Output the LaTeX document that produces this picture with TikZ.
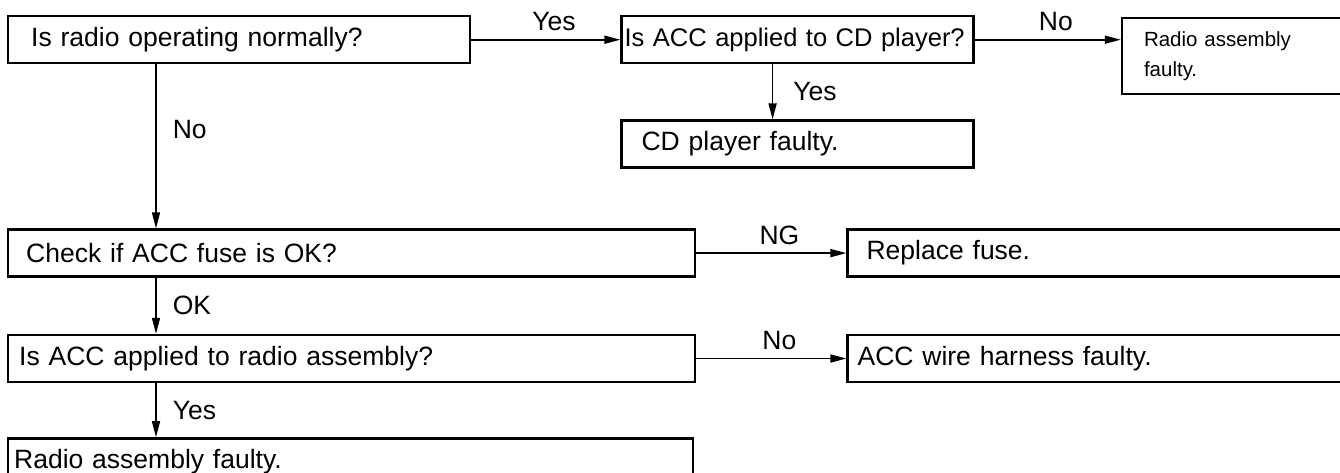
\documentclass[tikz,border=0pt]{standalone}
\usepackage{fontspec}
\setmainfont{Liberation Sans}
\usetikzlibrary{arrows.meta, positioning}
\tikzstyle{flow}=[x=1pt, y=-1pt, line width=1.6pt, >={Triangle[length=16pt,width=8pt]}]
\tikzstyle{lbl}=[inner sep=0pt, font=\fontsize{26.5}{30}\selectfont]
\tikzstyle{hlbl}=[lbl, anchor=base, yshift=9pt, xshift=8pt]
\tikzstyle{vlbl}=[lbl, anchor=west, xshift=16pt]
\tikzset{box/.style 2 args={draw, rectangle, line width=2.4pt, anchor=north west,
    text width=#1, inner xsep=#2, inner ysep=0pt, minimum height=47pt, align=left,
    font=\fontsize{26.5}{30}\selectfont}}

\begin{document}
\begin{tikzpicture}[flow]
  \useasboundingbox (0,0) rectangle (1340,472);
  \clip (0,0) rectangle (1340,472);
  \node[box={416pt}{23pt}] (radio) at (7,15) {Is radio operating normally?};
  \node[box={346pt}{3pt}, font=\fontsize{25.5}{30}\selectfont] (cdacc) [right=149pt of radio] {\mbox{Is ACC applied to CD player?}};
  \node[box={192pt}{22pt}, minimum height=76pt, font=\fontsize{20.5}{30}\selectfont] (radiobad)
    [right=146pt of cdacc.north east, anchor=north west, yshift=-2pt] {Radio assembly\\faulty.};
  \node[box={312pt}{20pt}] (cdbad) [below=55pt of cdacc] {CD player faulty.};
  \node[box={651pt}{18pt}] (fuse) [below=164pt of radio.south west, anchor=north west] {Check if ACC fuse is OK?};
  \node[box={482pt}{19pt}] (replace) [right=150pt of fuse] {Replace fuse.};
  \node[box={665pt}{11pt}] (accradio) [below=56pt of fuse.south west, anchor=north west] {Is ACC applied to radio assembly?};
  \node[box={500pt}{10pt}] (harness) [right=150pt of accradio] {ACC wire harness faulty.};
  \node[box={673pt}{6pt}] (radiofaulty) [below=54pt of accradio.south west, anchor=north west] {Radio assembly faulty.};
  \path[->] (radio) edge node[hlbl] {Yes} (cdacc);
  \path[->] (cdacc) edge node[hlbl] {No} (cdacc -| radiobad.west);
  \path[->] ([xshift=-25pt]cdacc.south) edge node[vlbl, xshift=4pt] {Yes} ([xshift=-25pt]cdbad.north);
  \path[->] ([xshift=149pt]radio.south west) edge node[vlbl, pos=0.4] {No} ([xshift=149pt]fuse.north west);
  \path[->] (fuse) edge node[hlbl] {NG} (replace);
  \path[->] ([xshift=149pt]fuse.south west) edge node[vlbl] {OK} ([xshift=149pt]accradio.north west);
  \path[->] (accradio) edge node[hlbl] {No} (harness);
  \path[->] ([xshift=149pt]accradio.south west) edge node[vlbl] {Yes} ([xshift=149pt]radiofaulty.north west);
\end{tikzpicture}
\end{document}
